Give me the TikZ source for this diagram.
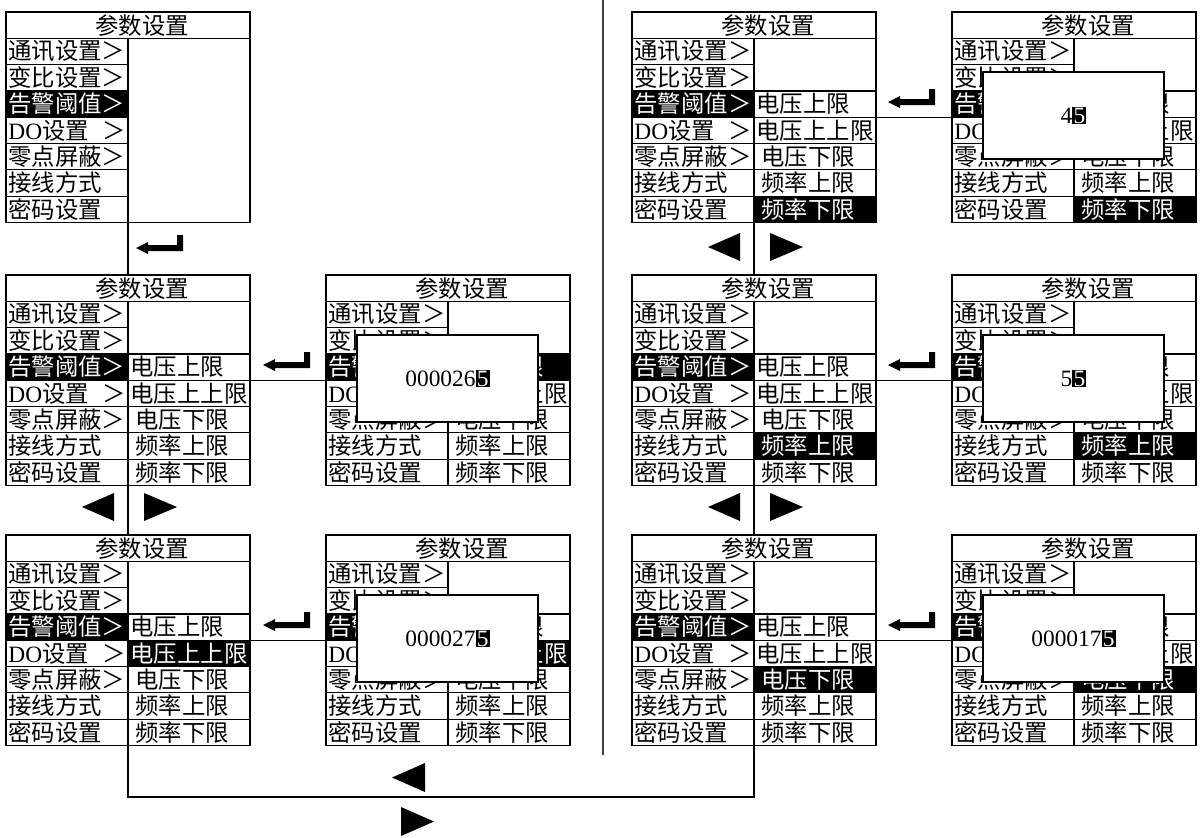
\documentclass[tikz,border=0pt]{standalone}
\usepackage{fontspec}
\setmainfont{Liberation Serif}
\newfontfamily\cjk{Noto Sans CJK SC}
\newcommand\invd[1]{{\setlength\fboxsep{0.6pt}\colorbox{black}{\textcolor{white}{#1}}}}
\newcommand\rc[2]{\ifnum#1=#2\color{white}\fi}
\tikzset{
  conn/.style={line width=0.6pt},
  lbl/.style={anchor=west, inner sep=0pt, font=\fontsize{11.7pt}{14pt}\selectfont},
  ttl/.style={inner sep=0pt, font=\fontsize{11.7pt}{14pt}\selectfont},
  panelbox/.style={minimum width=122pt, minimum height=105.2pt, inner sep=0pt, outer sep=0pt},
  popbox/.style={draw, line width=0.6pt, fill=white, minimum width=90.5pt, minimum height=43.5pt, inner sep=0pt, font=\fontsize{11.7pt}{14pt}\selectfont},
}
% #1 name, #2 x0, #3 y0, #4 right items (1/0), #5 highlighted right row (0 = none)
\newcommand\menupanel[5]{%
  \node[panelbox] (#1) at (#2+122,#3+105.2) {};
  \fill (#2,#3+78.9) rectangle (#2+122,#3+105.2);
  \ifnum#5>0 \fill (#2+122,#3+26.3*#5) rectangle (#2+244,#3+26.3*#5+26.3);\fi
  \node[ttl] (#1-t) at (#2+136,#3+13.15) {\cjk 参数设置};
  \node[lbl] (#1-l1) at (#2+2,#3+39.45) {\cjk 通讯设置＞};
  \node[lbl] (#1-l2) at (#2+2,#3+65.75) {\cjk 变比设置＞};
  \node[lbl,text=white] (#1-l3) at (#2+2,#3+92.05) {\cjk 告警阈值＞};
  \node[lbl] (#1-l4) at (#2+2,#3+118.35) {DO{\cjk 设置}};
  \node[lbl] (#1-l4g) at (#2+95.6,#3+118.35) {\cjk ＞};
  \node[lbl] (#1-l5) at (#2+2,#3+144.65) {\cjk 零点屏蔽＞};
  \node[lbl] (#1-l6) at (#2+2,#3+170.95) {\cjk 接线方式};
  \node[lbl] (#1-l7) at (#2+2,#3+197.25) {\cjk 密码设置};
  \ifnum#4=1
    \node[lbl] (#1-r3) at (#2+124,#3+92.05) {\rc{#5}{3}\cjk 电压上限};
    \node[lbl] (#1-r4) at (#2+124,#3+118.35) {\rc{#5}{4}\cjk 电压上上限};
    \node[lbl] (#1-r5) at (#2+129,#3+144.65) {\rc{#5}{5}\cjk 电压下限};
    \node[lbl] (#1-r6) at (#2+129,#3+170.95) {\rc{#5}{6}\cjk 频率上限};
    \node[lbl] (#1-r7) at (#2+129,#3+197.25) {\rc{#5}{7}\cjk 频率下限};
  \fi
  \draw[conn] (#2,#3+26.3) -- (#2+244,#3+26.3);
  \draw[conn] (#2+122,#3+26.3) -- (#2+122,#3+210.4);
  \foreach \i in {2,...,7} {\draw[conn] (#2,#3+26.3*\i) -- (#2+122,#3+26.3*\i);}
  \ifnum#4=1
    \foreach \i in {3,...,7} {\draw[conn] (#2+122,#3+26.3*\i) -- (#2+244,#3+26.3*\i);}
  \fi
  \draw[conn] (#1.north west) rectangle (#1.south east);
}
% #1 name, #2 x0, #3 y0, #4 text
\newcommand\popup[4]{\node[popbox] (#1) at (#2+121.5,#3+103.5) {#4};}
% enter key, tip at (#1,#2)
\newcommand\enterkey[2]{\fill (#1,#2) -- (#1+12,#2-6) -- (#1+12,#2-3) -- (#1+41,#2-3) -- (#1+41,#2-13) -- (#1+47,#2-13) -- (#1+47,#2+3) -- (#1+12,#2+3) -- (#1+12,#2+6) -- cycle;}
% left/right triangles: tip x, base x, top y, bottom y
\newcommand\tri[4]{\fill (#1,#3/2+#4/2) -- (#2,#3) -- (#2,#4) -- cycle;}
\begin{document}
\begin{tikzpicture}[x=0.5pt,y=-0.5pt]
\useasboundingbox (0,0) rectangle (1200,837);
\fill[white] (0,0) rectangle (1200,837);
% left half
\menupanel{p1}{6}{12}{0}{0}
\menupanel{p2}{6}{275}{1}{0}
\menupanel{p2b}{326}{275}{1}{3}
\popup{q2}{326}{275}{000026\invd{5}}
\menupanel{p3}{6}{535}{1}{4}
\menupanel{p3b}{326}{535}{1}{4}
\popup{q3}{326}{535}{000027\invd{5}}
% right half
\menupanel{p4}{632}{12}{1}{7}
\menupanel{p5}{952}{12}{1}{7}
\popup{q5}{952}{12}{4\invd{5}}
\menupanel{p6}{632}{275}{1}{6}
\menupanel{p7}{952}{275}{1}{6}
\popup{q7}{952}{275}{5\invd{5}}
\menupanel{p8}{632}{535}{1}{5}
\menupanel{p9}{952}{535}{1}{5}
\popup{q9}{952}{535}{000017\invd{5}}
% middle divider
\coordinate (dtop) at (603,0);
\coordinate (dbot) at (603,755);
\draw[conn,black!75] (dtop) -- (dbot);
% connectors left half
\draw[conn] (p1.south) -- (p2.north);
\enterkey{136}{248}
\draw[conn] (p2.south) -- (p3.north);
\tri{82}{114}{493}{521}
\tri{177}{144}{493}{521}
\draw[conn] (p2.east) -- (p2b.west);
\enterkey{263}{365}
\draw[conn] (p3.east) -- (p3b.west);
\enterkey{263}{625}
% connectors right half
\draw[conn] (p4.south) -- (p6.north);
\tri{708}{740}{233}{261}
\tri{803}{770}{233}{261}
\draw[conn] (p6.south) -- (p8.north);
\tri{708}{740}{493}{521}
\tri{803}{770}{493}{521}
\draw[conn] (p4.east) -- (p5.west);
\enterkey{888}{102}
\draw[conn] (p6.east) -- (p7.west);
\enterkey{888}{365}
\draw[conn] (p8.east) -- (p9.west);
\enterkey{888}{625}
% bottom loop
\coordinate (loopy) at (400,797);
\draw[conn] (p3.south) |- (loopy) -| (p8.south);
\tri{392}{425}{763}{792}
\tri{434}{401}{807}{836}
\end{tikzpicture}
\end{document}
